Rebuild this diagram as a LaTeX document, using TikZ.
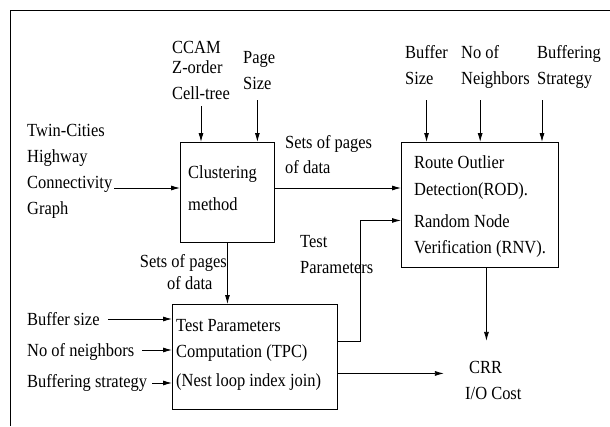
\documentclass[tikz,border=0pt]{standalone}
\usepackage{fontspec}
\setmainfont[FakeStretch=0.89]{Liberation Serif}
\usetikzlibrary{arrows.meta}
\begin{document}
\begin{tikzpicture}[x=1pt,y=-1pt,
  txt/.style={font=\fontsize{18.5}{22}\selectfont, inner sep=0pt, anchor=base west},
  box/.style={draw, line width=0.9pt, inner sep=0pt, anchor=north west},
  arr/.style={-{Latex[length=9pt,width=5pt]}, line width=0.8pt}]
\useasboundingbox (0,0) rectangle (610,426);
\draw[line width=1pt] (10,426) -- (10,10) -- (610,10);

% boxes
\node[box, minimum width=94pt, minimum height=100pt] (clust) at (180,142) {};
\node[box, minimum width=157pt, minimum height=125pt] (rod) at (401,142) {};
\node[box, minimum width=165pt, minimum height=105pt] (tpc) at (172,304) {};

% texts
\node[txt] (tw1) at (27,136) {Twin-Cities};
\node[txt] (tw2) at (27,162) {Highway};
\node[txt] (tw3) at (27,188) {Connectivity};
\node[txt] (tw4) at (27,214) {Graph};
\node[txt] (cc1) at (172,53) {CCAM};
\node[txt] (cc2) at (172,73) {Z-order};
\node[txt] (cc3) at (172,99) {Cell-tree};
\node[txt] (ps1) at (243,63) {Page};
\node[txt] (ps2) at (243,89) {Size};
\node[txt] (cl1) at (188,178) {Clustering};
\node[txt] (cl2) at (188,210) {method};
\node[txt] (sp1) at (285,148) {Sets of pages};
\node[txt] (sp2) at (285,173) {of data};
\node[txt] (bf1) at (405,58) {Buffer};
\node[txt] (bf2) at (405,84) {Size};
\node[txt] (nn1) at (461,58) {No of};
\node[txt] (nn2) at (461,84) {Neighbors};
\node[txt] (bs1) at (537,58) {Buffering};
\node[txt] (bs2) at (537,84) {Strategy};
\node[txt] (r1) at (414,168) {Route Outlier};
\node[txt] (r2) at (414,195) {Detection(ROD).};
\node[txt] (r3) at (414,227) {Random Node};
\node[txt] (r4) at (414,253) {Verification (RNV).};
\node[txt] (tp1) at (300,247) {Test};
\node[txt] (tp2) at (300,273) {Parameters};
\node[txt] (crr1) at (469,373) {CRR};
\node[txt] (crr2) at (465,399) {I/O Cost};
\node[txt,anchor=base east] (ls1) at (227,267) {Sets of pages};
\node[txt] (ls2) at (167,289) {of data};
\node[txt] (lb1) at (27,325) {Buffer size};
\node[txt] (lb2) at (27,356) {No of neighbors};
\node[txt] (lb3) at (27,387) {Buffering strategy};
\node[txt] (t1) at (176,331) {Test Parameters};
\node[txt] (t2) at (176,357) {Computation (TPC)};
\node[txt] (t3) at (176,386) {(Nest loop index join)};

% connectors
\draw[arr] ([xshift=2pt]tw3.base east) coordinate (q1) -- (q1 -| clust.west);
\draw[arr] ([yshift=-7pt]cc3.base) coordinate (q2) -- (q2 |- clust.north);
\draw[arr] ([yshift=-11pt]ps2.base) coordinate (q3) -- (q3 |- clust.north);
\draw[arr] (clust.east |- tw3.base) -- (rod.west |- tw3.base);
\draw[arr] ([yshift=-42pt]bf1.base) coordinate (q4) -- (q4 |- rod.north);
\draw[arr] ([yshift=-42pt]nn1.base) coordinate (q5) -- (q5 |- rod.north);
\draw[arr] ([shift={(5,42)}]bs1.base west) coordinate (q6) -- (q6 |- rod.north);
\draw[arr] ([xshift=6.5pt]rod.south) -- ++(0,73);
\draw[arr] ([yshift=15.5pt]tpc.east) -- ++(22,0) |- ([yshift=-15.5pt]rod.west);
\draw[arr] ([yshift=-16.5pt]tpc.east) -- ++(106,0);
\draw[arr] (clust.south) -- (clust.south |- tpc.north);
\draw[arr] ([shift={(8,-6)}]lb1.base east) coordinate (q7) -- (q7 -| tpc.west);
\draw[arr] ([shift={(8,-6)}]lb2.base east) coordinate (q8) -- (q8 -| tpc.west);
\draw[arr] ([shift={(5,-4)}]lb3.base east) coordinate (q9) -- (q9 -| tpc.west);
\end{tikzpicture}
\end{document}
